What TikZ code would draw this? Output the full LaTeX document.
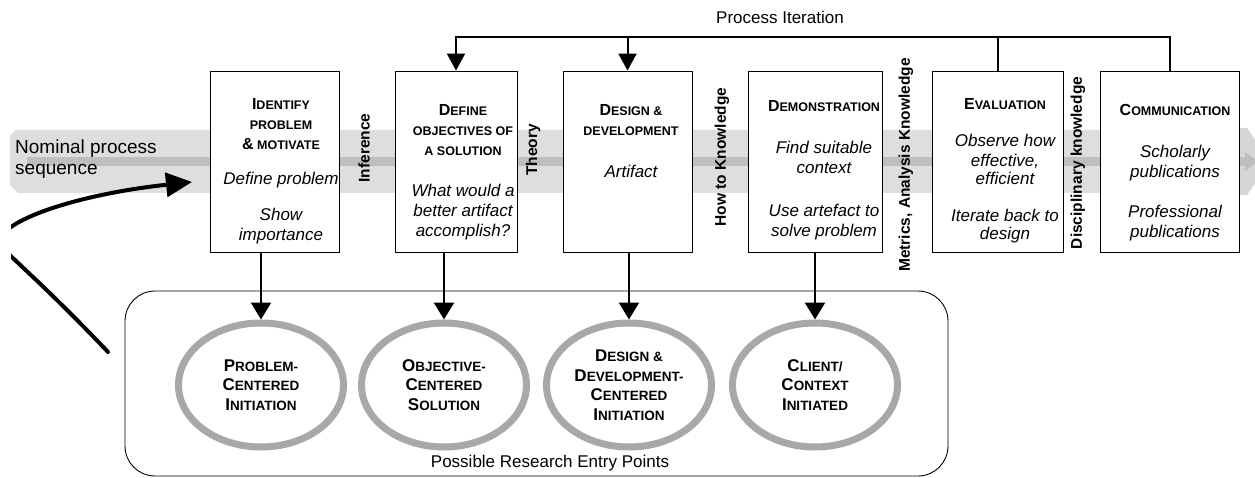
\documentclass[tikz,border=0pt]{standalone}
\usepackage{fontspec}
\setmainfont{Liberation Sans}
\usetikzlibrary{arrows.meta,shapes.geometric}

\definecolor{bandlight}{RGB}{222,222,222}
\definecolor{banddark}{RGB}{190,190,190}
\definecolor{bandtip}{RGB}{214,214,214}
\definecolor{ringgray}{RGB}{168,168,168}

% title in faked small capitals: a large first letter, the rest small
\newcommand\tcap[2]{{\fontsize{16}{20}\selectfont #1}#2}
\newcommand\ecap[2]{{\fontsize{17}{19.5}\selectfont #1}#2}
\newcommand\ttl{\upshape\bfseries\fontsize{12.5}{20}\selectfont}

\begin{document}
\begin{tikzpicture}[x=1pt,y=-1pt,
  stage/.style={draw=black,line width=0.9pt,fill=white,minimum height=181pt,inner sep=0pt},
  stagetext/.style={anchor=base,align=center,inner sep=0pt,font=\itshape\fontsize{17}{20}\selectfont},
  entry/.style={ellipse,draw=ringgray,line width=7pt,minimum width=165pt,minimum height=124pt,
    inner sep=0pt,align=center,font=\bfseries\fontsize{13.5}{19.5}\selectfont},
  vlabel/.style={rotate=90,inner sep=0pt,font=\bfseries\fontsize{15.5}{18}\selectfont},
  plain/.style={inner sep=0pt,font=\fontsize{17}{20}\selectfont},
  iterline/.style={line width=2pt},
  drop/.style={line width=2.5pt,-{Triangle[length=17pt,width=20pt]}},
  loopback/.style={line width=4pt,line cap=round,-{Triangle[length=26pt,width=24pt]}}]

\useasboundingbox (0,0) rectangle (1255,478);

% nominal process band
\fill[bandlight] (10,136) -- (16,130) -- (1240,130) -- (1240,193) -- (18,193) -- (10,185) -- cycle;
\fill[bandtip] (1240,128) -- (1247,128) -- (1270,161.5) -- (1247,195) -- (1240,195) -- cycle;
\fill[banddark] (27,157) rectangle (1245,166);
\fill[banddark] (1245,152) -- (1258,161.5) -- (1245,171) -- cycle;
\node[plain,anchor=base west,align=left,font=\fontsize{19}{21}\selectfont] (nps) at (15,175)
  {Nominal process\\sequence};

% activity boxes
\node[stage,minimum width=129pt] (b1) at (274.5,161.5) {};
\node[stage,minimum width=122pt] (b2) at (456,161.5) {};
\node[stage,minimum width=129pt] (b3) at (627.5,161.5) {};
\node[stage,minimum width=134pt] (b4) at (815,161.5) {};
\node[stage,minimum width=131pt] (b5) at (997.5,161.5) {};
\node[stage,minimum width=139pt] (b6) at (1169.5,161.5) {};

% texts of the boxes, placed by the baseline of their last line
\node[stagetext] (t1) at (281,241) {{\ttl\tcap{I}{DENTIFY}}\\{\ttl PROBLEM}\\{\ttl\tcap{\&}{ MOTIVATE}}\\[15pt]
  Define problem\\[16pt]Show\\importance};
\node[stagetext] (t2) at (463,237) {{\ttl\tcap{D}{EFINE}}\\{\ttl OBJECTIVES OF}\\{\ttl A SOLUTION}\\[21pt]
  What would a\\better artifact\\accomplish?};
\node[stagetext] (t3) at (631,178) {{\ttl\tcap{D}{ESIGN \&}}\\{\ttl DEVELOPMENT}\\[22pt]Artifact};
\node[stagetext] (t4) at (824,237) {{\ttl\tcap{D}{EMONSTRATION}}\\[22pt]Find suitable\\context\\[23pt]
  Use artefact to\\solve problem};
\node[stagetext] (t5) at (1005,240) {{\ttl\tcap{E}{VALUATION}}\\[17pt]Observe how\\effective,\\[-2pt]efficient\\[17pt]
  Iterate back to\\[-2pt]design};
\node[stagetext] (t6) at (1175,238) {{\ttl\tcap{C}{OMMUNICATION}}\\[22pt]Scholarly\\publications\\[20pt]
  Professional\\publications};

% knowledge labels between the activities
\node[vlabel] (l1) at (364,148) {Inference};
\node[vlabel] (l2) at (533,150) {Theory};
\node[vlabel] (l3) at (722,157) {How to Knowledge};
\node[vlabel] (l4) at (906,165) {Metrics, Analysis Knowledge};
\node[vlabel] (l5) at (1078,163) {Disciplinary knowledge};

% process iteration
\coordinate (top) at (0,37);
\node[plain] (pit) at (780,17) {Process Iteration};
\draw[iterline,-{Triangle[length=17pt,width=18pt]}] (b6.north) -- (b6.north |- top) -| (b2.north);
\draw[iterline,-{Triangle[length=17pt,width=18pt]}] (b3.north |- top) -- (b3.north);
\draw[iterline] (b5.north |- top) -- (b5.north);

% research entry points
\node[draw,line width=0.9pt,rounded corners=30pt,minimum width=823pt,minimum height=185pt,inner sep=0pt]
  (frame) at (536.5,383.5) {};
\node[entry] (e1) at (261,385) {\ecap{P}{ROBLEM-}\\\ecap{C}{ENTERED}\\\ecap{I}{NITIATION}};
\node[entry] (e2) at (444,385) {\ecap{O}{BJECTIVE-}\\\ecap{C}{ENTERED}\\\ecap{S}{OLUTION}};
\node[entry] (e3) at (629,385) {\ecap{D}{ESIGN \&}\\\ecap{D}{EVELOPMENT-}\\\ecap{C}{ENTERED}\\\ecap{I}{NITIATION}};
\node[entry] (e4) at (815,385) {\ecap{C}{LIENT/}\\\ecap{C}{ONTEXT}\\\ecap{I}{NITIATED}};
\node[plain] (pre) at (550,463) {Possible Research Entry Points};

\draw[drop] (e1.north |- b1.south) -- (e1.north);
\draw[drop] (e2.north |- b2.south) -- (e2.north);
\draw[drop] (e3.north |- b3.south) -- (e3.north);
\draw[drop] (e4.north |- b4.south) -- (e4.north);

% loop back into the process
\coordinate (loopstart) at (108,352);
\coordinate (loopend) at (192,182);
\begin{scope}
  \clip (11,0) rectangle (1255,478);
  \draw[loopback] (loopstart) .. controls (30,270) and (0,250) .. (0,242)
    .. controls (0,220) and (80,194) .. (loopend);
\end{scope}
\end{tikzpicture}
\end{document}
